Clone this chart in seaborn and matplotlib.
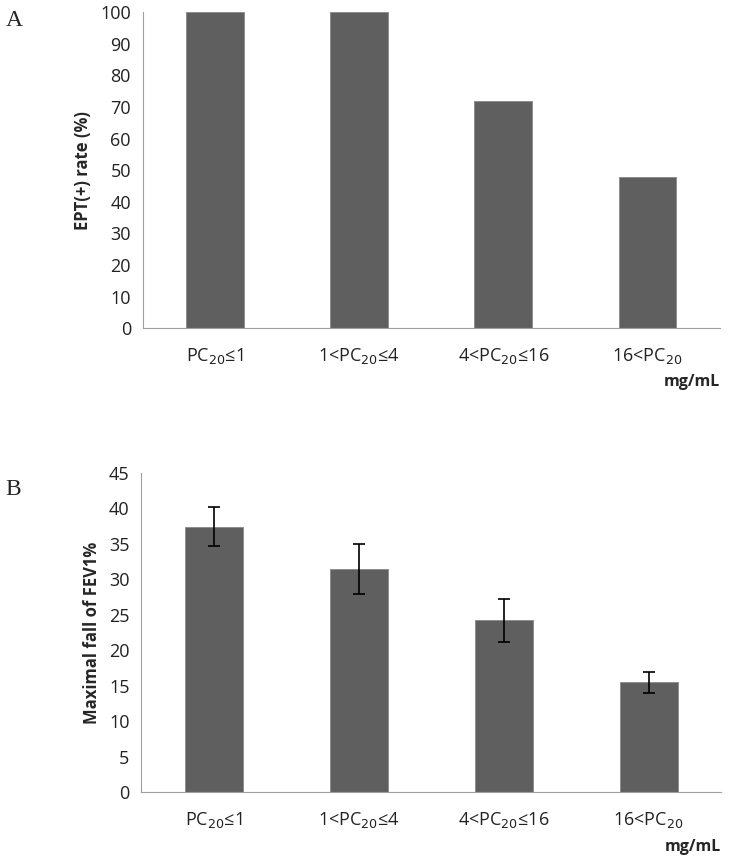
import pandas as pd
import matplotlib.pyplot as plt
import seaborn as sns

groups = ["PC$_{20}$≤1", "1<PC$_{20}$≤4", "4<PC$_{20}$≤16", "16<PC$_{20}$"]
ept_rate = [100, 100, 72, 48]
fev_fall = [37.4, 31.4, 24.2, 15.5]
fev_err = [2.8, 3.5, 3.0, 1.5]

sns.set_style("white")
plt.rcParams['font.family'] = ['Open Sans', 'DejaVu Sans']

df_a = pd.DataFrame({'group': groups, 'value': ept_rate})
df_b = pd.DataFrame({'group': groups, 'value': fev_fall, 'err': fev_err})

fig = plt.figure(figsize=(7.32, 8.64), dpi=100)
ax_a = fig.add_axes([0.195, 0.620, 0.788, 0.366])
ax_b = fig.add_axes([0.193, 0.083, 0.792, 0.370])

bar_col = '#5f5f5f'
axis_col = '#a0a0a0'


def style(ax, ymax, step, ylabel):
    ax.set_xlim(-0.5, 3.5)
    ax.set_ylim(0, ymax)
    ax.set_yticks(range(0, ymax + 1, step))
    ax.set_xticks([-0.5, 0.5, 1.5, 2.5, 3.5], minor=True)
    ax.tick_params(axis='x', which='major', length=0, pad=13, labelsize=13, colors='#222222')
    ax.tick_params(axis='x', which='minor', length=5, color=axis_col, direction='out')
    ax.tick_params(axis='y', length=5, color=axis_col, direction='out', labelsize=13, colors='#222222')
    for s in ['top', 'right']:
        ax.spines[s].set_visible(False)
    for s in ['left', 'bottom']:
        ax.spines[s].set_color(axis_col)
    ax.set_xlabel('')
    ax.set_ylabel(ylabel, fontsize=12, fontweight='bold', labelpad=6)
    ax.text(1.0, -0.145, 'mg/mL', transform=ax.transAxes, ha='right', va='top',
            fontsize=11.5, fontweight='bold')


sns.barplot(data=df_a, x='group', y='value', color=bar_col, width=0.4,
            edgecolor='#888888', linewidth=0.6, saturation=1, ax=ax_a)
style(ax_a, 100, 10, 'EPT(+) rate (%)')

sns.barplot(data=df_b, x='group', y='value', color=bar_col, width=0.4,
            edgecolor='#888888', linewidth=0.6, saturation=1, ax=ax_b)
ax_b.errorbar(range(len(groups)), df_b['value'], yerr=df_b['err'], fmt='none',
              ecolor='black', elinewidth=1.2, capsize=4, capthick=1.2)
style(ax_b, 45, 5, 'Maximal fall of FEV1%')

fig.text(0.008, 0.976, 'A', fontsize=17, family='Liberation Serif', va='center')
fig.text(0.008, 0.433, 'B', fontsize=17, family='Liberation Serif', va='center')

fig.savefig('out.png', dpi=100)
